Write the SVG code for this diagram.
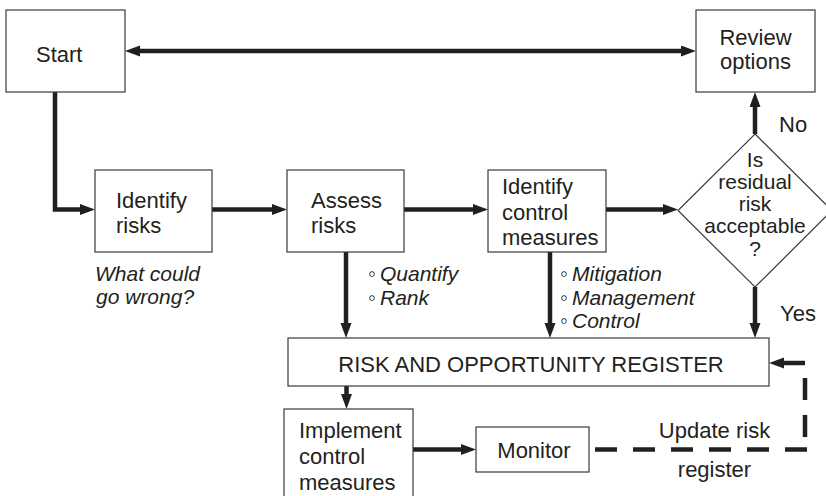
<svg xmlns="http://www.w3.org/2000/svg" width="826" height="496" viewBox="0 0 826 496">
<style>
.box{fill:#fff;stroke:#3a3a3a;stroke-width:1.2}
.t{font-family:"Liberation Sans",Arial,sans-serif;font-size:22px;fill:#231f20}
.d{font-size:21px}
.i{font-family:"Liberation Sans",Arial,sans-serif;font-size:21px;font-style:italic;fill:#231f20}
.b{font-style:normal;font-size:22px}
.c{fill:none;stroke:#231f20;stroke-width:4.5}
.dash{fill:none;stroke:#231f20;stroke-width:4.5}
</style>
<defs>
<marker id="ah" markerUnits="userSpaceOnUse" markerWidth="16" markerHeight="12" refX="1" refY="5.5" orient="auto-start-reverse" viewBox="0 0 16 12">
<path d="M0,0 L15,5.5 L0,11 z" fill="#231f20"/>
</marker>
</defs>
<rect width="826" height="496" fill="#fff"/>

<g id="connectors">
<path class="c" d="M139 51 H682" marker-start="url(#ah)" marker-end="url(#ah)"/>
<path class="c" d="M55 92 V209.5 H81" marker-end="url(#ah)"/>
<path class="c" d="M212 209.5 H273" marker-end="url(#ah)"/>
<path class="c" d="M404 209.5 H474" marker-end="url(#ah)"/>
<path class="c" d="M606 209.5 H664" marker-end="url(#ah)"/>
<path class="c" d="M755 134 V106" marker-end="url(#ah)"/>
<path class="c" d="M755 287 V324" marker-end="url(#ah)"/>
<path class="c" d="M346 252 V324" marker-end="url(#ah)"/>
<path class="c" d="M550 252 V324" marker-end="url(#ah)"/>
<path class="c" d="M346.5 386 V395" marker-end="url(#ah)"/>
<path class="c" d="M413 449.5 H462" marker-end="url(#ah)"/>
<path class="dash" d="M589 449.5 H807" stroke-dasharray="22 16" stroke-dashoffset="32"/>
<path class="dash" d="M805 437 V363 H783" stroke-dasharray="22 15" marker-end="url(#ah)"/>
</g>

<g id="start">
<rect class="box" x="6" y="10" width="119" height="82"/>
<text class="t" x="36" y="62">Start</text>
</g>
<g id="review">
<rect class="box" x="696" y="10" width="119" height="82"/>
<text class="t" text-anchor="middle" x="755.5" y="45">Review</text>
<text class="t" text-anchor="middle" x="755.5" y="69">options</text>
</g>
<g id="identify">
<rect class="box" x="95" y="170" width="117" height="82"/>
<text class="t" x="116" y="208">Identify</text>
<text class="t" x="116" y="233">risks</text>
</g>
<g id="assess">
<rect class="box" x="287" y="170" width="117" height="82"/>
<text class="t" x="311" y="208">Assess</text>
<text class="t" x="311" y="233">risks</text>
</g>
<g id="control">
<rect class="box" x="488" y="170" width="118" height="82"/>
<text class="t" x="502" y="194">Identify</text>
<text class="t" x="502" y="219.5">control</text>
<text class="t" x="502" y="245">measures</text>
</g>
<g id="decision">
<polygon class="box" points="755,134 832,210.5 755,287 678,210.5"/>
<text class="t d" text-anchor="middle" x="755" y="167">Is</text>
<text class="t d" text-anchor="middle" x="755" y="189">residual</text>
<text class="t d" text-anchor="middle" x="755" y="211">risk</text>
<text class="t d" text-anchor="middle" x="755" y="232.5">acceptable</text>
<text class="t d" text-anchor="middle" x="755" y="256">?</text>
</g>
<g id="register">
<rect class="box" x="288" y="338" width="481" height="48"/>
<text class="t" text-anchor="middle" x="531" y="372">RISK AND OPPORTUNITY REGISTER</text>
</g>
<g id="implement">
<rect class="box" x="284" y="409" width="129" height="110"/>
<text class="t" x="299" y="437.5">Implement</text>
<text class="t" x="299" y="464">control</text>
<text class="t" x="299" y="490">measures</text>
</g>
<g id="monitor">
<rect class="box" x="476" y="427" width="113" height="45"/>
<text class="t" text-anchor="middle" x="534" y="458">Monitor</text>
</g>

<g id="labels">
<text class="i" y="281"><tspan class="b" x="368">◦</tspan><tspan x="380">Quantify</tspan></text>
<text class="i" y="304.5"><tspan class="b" x="368">◦</tspan><tspan x="380">Rank</tspan></text>
<text class="i" y="281"><tspan class="b" x="560">◦</tspan><tspan x="572">Mitigation</tspan></text>
<text class="i" y="304.5"><tspan class="b" x="560">◦</tspan><tspan x="572">Management</tspan></text>
<text class="i" y="328"><tspan class="b" x="560">◦</tspan><tspan x="572">Control</tspan></text>
<text class="i" x="95" y="281">What could</text>
<text class="i" x="96" y="304">go wrong?</text>
<text class="t" x="779" y="131.5">No</text>
<text class="t" x="780" y="321">Yes</text>
<text class="t" text-anchor="middle" x="714.5" y="438">Update risk</text>
<text class="t" text-anchor="middle" x="714.5" y="477">register</text>
</g>
</svg>
